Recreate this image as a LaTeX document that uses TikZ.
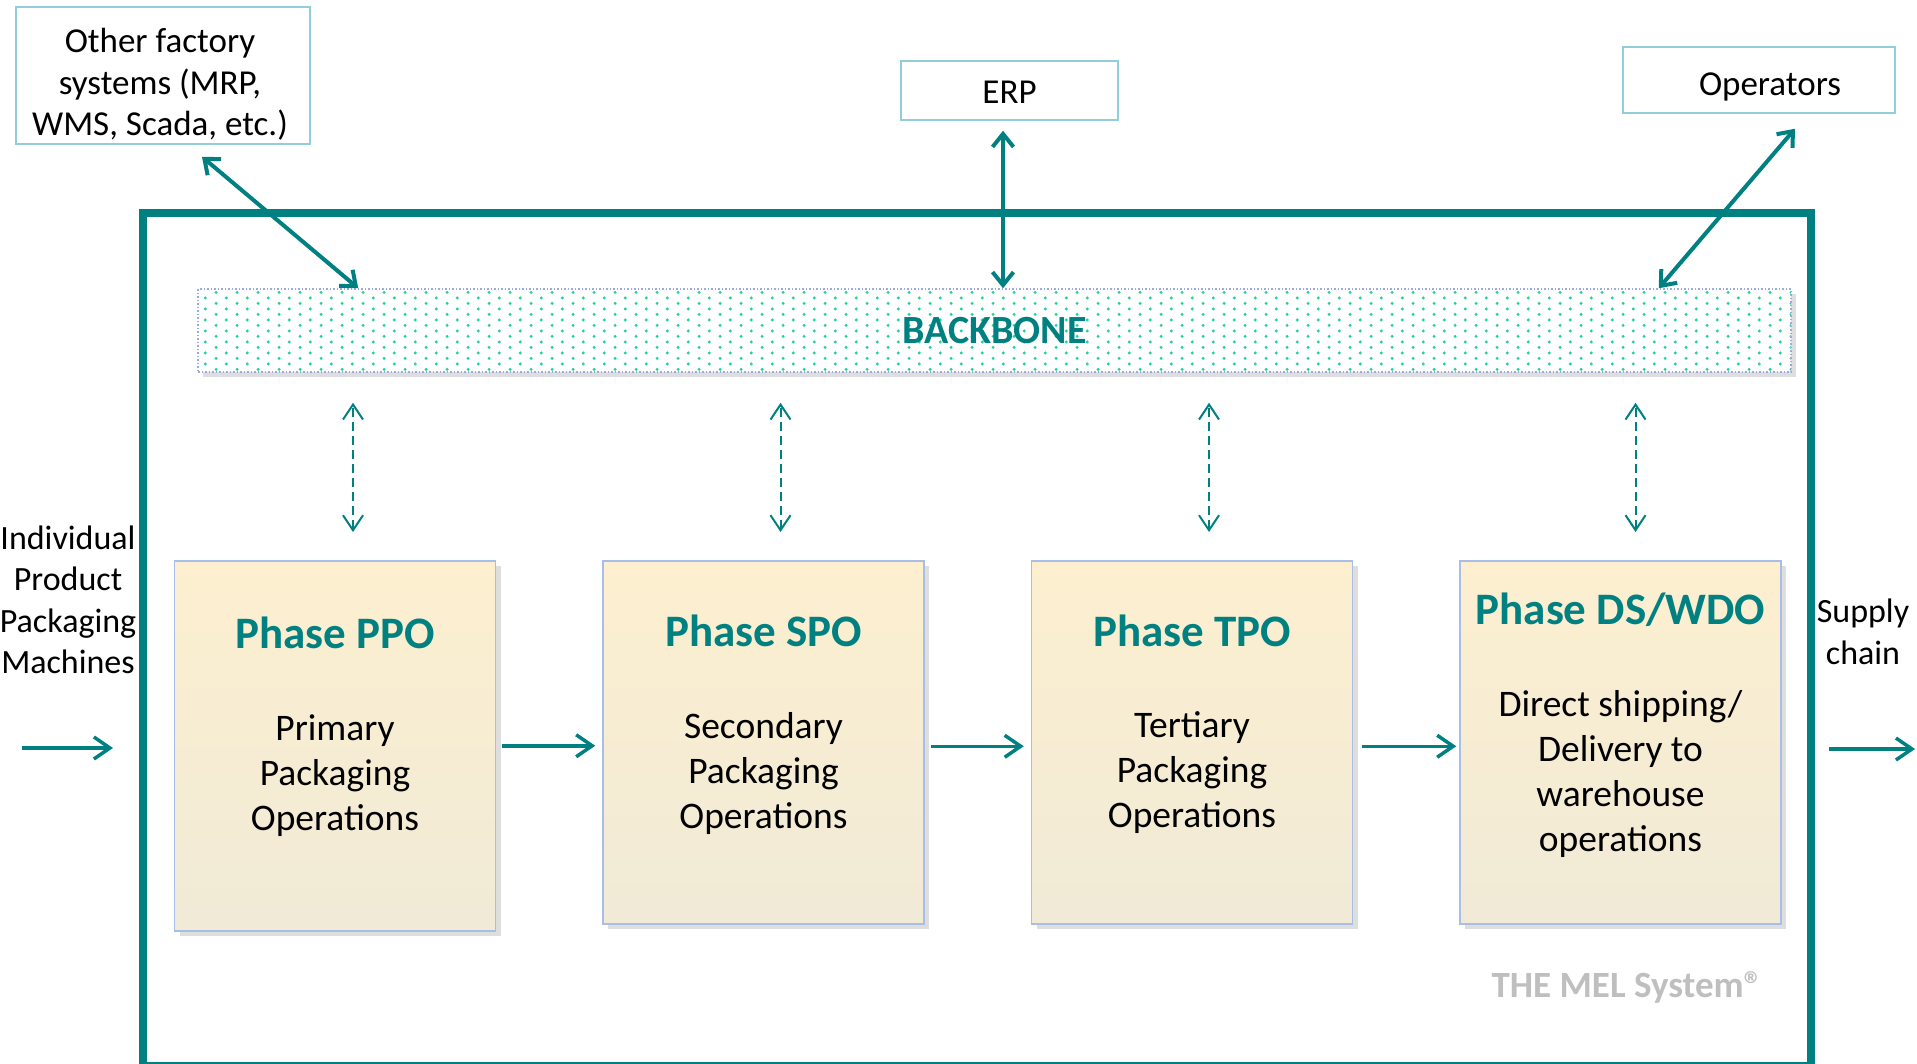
\documentclass[tikz,border=0pt]{standalone}
\usepackage{fontspec}
\setmainfont{Carlito}
\usetikzlibrary{positioning}
\usetikzlibrary{arrows.meta}
\usetikzlibrary{shadows}
\usetikzlibrary{patterns}
\definecolor{melteal}{RGB}{0, 128, 128}
\definecolor{boxblue}{RGB}{146, 205, 220}
\definecolor{phaseblue}{RGB}{168, 190, 230}
\definecolor{phasetop}{RGB}{253, 239, 208}
\definecolor{phasebottom}{RGB}{240, 234, 214}
\definecolor{dotgreen}{RGB}{30, 210, 160}
\definecolor{dotblue}{RGB}{155, 170, 228}
\definecolor{markgray}{RGB}{191, 191, 191}
\pgfdeclarepatternformonly{backbone dots}{\pgfpointorigin}{\pgfpoint{21.2pt}{10.8pt}}{\pgfpoint{21.2pt}{10.8pt}}{%
  \pgfpathcircle{\pgfpoint{5.3pt}{2.7pt}}{1.7pt}%
  \pgfpathcircle{\pgfpoint{15.9pt}{8.1pt}}{1.7pt}%
  \pgfusepath{fill}}

\begin{document}
\begin{tikzpicture}
  [
    x             = 1pt,
    y             = -1pt,
    node distance = 106pt,
    >             = {Straight Barb[length=13pt,width=21pt]},
    link/.style   = {draw=melteal, line width=4pt, <->},
    flow/.style   = {draw=melteal, line width=3.5pt, ->, >={Straight Barb[length=16pt,width=22pt]}},
    bus/.style    = {draw=melteal, line width=2pt, dash pattern=on 9pt off 5pt, <->, >={Straight Barb[length=15pt,width=20pt]}}
  ]
  \useasboundingbox (0,0) rectangle (1917,1063);
  \draw [melteal, line width=8pt] (143,213) rectangle (1811,1066);
  \begin{scope}[system/.style={rectangle,draw=boxblue,line width=1.5pt,fill=white},
        systemtext/.style={align=center,font=\fontsize{35}{41.5}\selectfont},
        backbone/.style={rectangle,draw=dotblue,line width=1.5pt,dash pattern=on 1.5pt off 2pt,
          drop shadow={shadow xshift=5pt,shadow yshift=-5pt,fill=black,opacity=.13},preaction={fill=white},
          pattern=backbone dots,pattern color=dotgreen,minimum width=1593pt,minimum height=83pt,inner sep=0pt,
          text=melteal,font=\bfseries\fontsize{40}{46}\selectfont},
        phase/.style={rectangle,draw=phaseblue,line width=1.5pt,top color=phasetop,bottom color=phasebottom,
          drop shadow={shadow xshift=5pt,shadow yshift=-5pt,fill=black,opacity=.13},
          minimum width=321pt,minimum height=363pt,inner sep=0pt},
        phasetitle/.style={text=melteal,font=\bfseries\fontsize{45}{50}\selectfont},
        phasebody/.style={align=center,font=\fontsize{37.5}{45}\selectfont},
        outside/.style={align=center,font=\fontsize{34}{41.5}\selectfont},
        brand/.style={text=markgray,font=\bfseries\fontsize{37}{42}\selectfont}]
  \node [system, minimum width=294pt, minimum height=137pt] (other) at (163,75.5) {};
  \node [system, minimum width=217pt, minimum height=59pt] (erp) at (1009.5,90.5) {};
  \node [system, minimum width=272pt, minimum height=66pt] (ops) at (1759,80) {};
  \node [systemtext] (other-text) at ([xshift=-3pt,yshift=-9pt]other.center) {Other factory\\systems (MRP,\\WMS, Scada, etc.)};
  \node [systemtext] (erp-text) at ([yshift=-2pt]erp.center) {ERP};
  \node [systemtext] (ops-text) at ([xshift=11pt,yshift=-7pt]ops.center) {Operators};
  \node [backbone] (bb) at (994.5,330.5) {BACKBONE};

  \node [phase, minimum height=370pt, anchor=north] (ppo) at (335,560) {};
  \node [phase] (spo) [right=of ppo.north east, anchor=north west] {};
  \node [phase] (tpo) [right=of spo.north east, anchor=north west] {};
  \node [phase] (dso) [right=of tpo.north east, anchor=north west] {};

  \node [phasetitle] (ppo-title) [below=73pt of ppo.north, anchor=center] {Phase PPO};
  \node [phasetitle] (spo-title) [below=71pt of spo.north, anchor=center] {Phase SPO};
  \node [phasetitle] (tpo-title) [below=71pt of tpo.north, anchor=center] {Phase TPO};
  \node [phasetitle] (dso-title) [below=50pt of dso.north, anchor=center] {Phase DS/WDO};
  \node [phasebody] (ppo-text) [below=216pt of ppo.north, anchor=center] {Primary\\Packaging\\Operations};
  \node [phasebody] (spo-text) [below=213pt of spo.north, anchor=center] {Secondary\\Packaging\\Operations};
  \node [phasebody] (tpo-text) [below=213pt of tpo.north, anchor=center] {Tertiary\\Packaging\\Operations};
  \node [phasebody] (dso-text) [below=214pt of dso.north, anchor=center] {Direct shipping/\\Delivery to\\warehouse\\operations};

  \node [outside] (machines) at (68,600) {Individual\\Product\\Packaging\\Machines};
  \node [outside] (supply) at (1863,632) {Supply\\chain};
  \node [brand] (mel) at (1627,987) {THE MEL System®};

  \draw [link] ([xshift=39pt,yshift=-12pt]other.south) -- ([xshift=161pt]bb.north west);
  \draw [link, shorten <=10pt] ([xshift=-6.5pt]erp.south) -- ([xshift=8.5pt]bb.north);
  \draw [link] ([xshift=36pt,yshift=-15pt]ops.south) -- ([xshift=-133pt]bb.north east);

  \coordinate (ppo-bus) at ([xshift=18pt]ppo.north);
  \coordinate (spo-bus) at ([xshift=17pt]spo.north);
  \coordinate (tpo-bus) at ([xshift=17pt]tpo.north);
  \coordinate (dso-bus) at ([xshift=15pt]dso.north);
  \draw [bus, shorten <=28pt, shorten >=30pt] (ppo-bus) -- (ppo-bus |- bb.south);
  \draw [bus, shorten <=28pt, shorten >=30pt] (spo-bus) -- (spo-bus |- bb.south);
  \draw [bus, shorten <=28pt, shorten >=30pt] (tpo-bus) -- (tpo-bus |- bb.south);
  \draw [bus, shorten <=28pt, shorten >=30pt] (dso-bus) -- (dso-bus |- bb.south);

  \coordinate (in-tail) at (22,748);
  \coordinate (in-head) at (113,748);
  \coordinate (out-tail) at (1829,749);
  \coordinate (out-head) at (1915,749);
  \draw [flow] (in-tail) -- (in-head);
  \draw [flow, shorten <=6pt, shorten >=7pt] (ppo.east) -- (ppo.east -| spo.west);
  \draw [flow, shorten <=6pt, shorten >=7pt] ([yshift=-4pt]spo.east) -- ([yshift=-4pt]spo.east -| tpo.west);
  \draw [flow, shorten <=9pt, shorten >=3pt] ([yshift=-4pt]tpo.east) -- ([yshift=-4pt]tpo.east -| dso.west);
  \draw [flow] (out-tail) -- (out-head);
  \end{scope}
\end{tikzpicture}
\end{document}
